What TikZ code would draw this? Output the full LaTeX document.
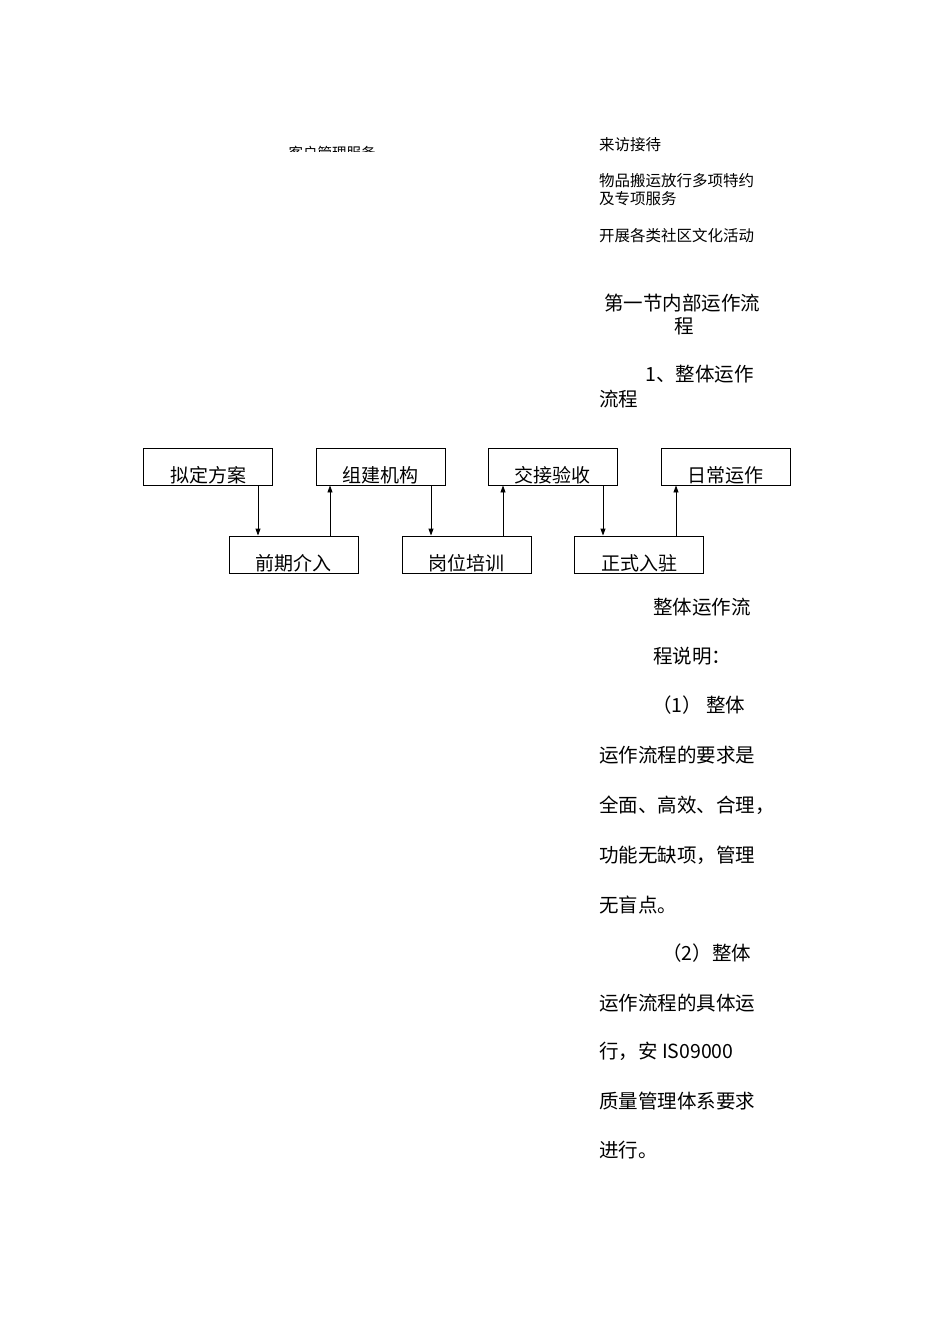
\documentclass[tikz,border=0pt]{standalone}
\usepackage{fontspec}
\setmainfont{Noto Sans CJK SC}
\usetikzlibrary{arrows.meta}
\begin{document}
\begin{tikzpicture}[x=1pt,y=-1pt,
  box/.style={draw,line width=0.9pt,minimum width=129pt,minimum height=37pt,inner sep=0pt},
  btxt/.style={font=\fontsize{19}{19}\selectfont,anchor=center},
  sm/.style={anchor=west,inner sep=0pt,font=\fontsize{15.5}{16}\selectfont},
  bd/.style={anchor=west,inner sep=0pt,font=\fontsize{19.5}{20}\selectfont},
  arr/.style={-{Triangle[length=7pt,width=5pt]},line width=0.9pt}]
\useasboundingbox (0,0) rectangle (950,1344);
\begin{scope}
\clip (0,0) rectangle (950,151);
\node[anchor=center,inner sep=0pt,font=\fontsize{14.5}{15}\selectfont] (kh) at (332,153) {客户管理服务};
\end{scope}
\node[sm] (t1) at (599,145) {来访接待};
\node[sm] (t2) at (599,181) {物品搬运放行多项特约};
\node[sm] (t3) at (599,199) {及专项服务};
\node[sm] (t4) at (599,236) {开展各类社区文化活动};
\node[bd] (h1) at (604,303) {第一节内部运作流};
\node[anchor=center,inner sep=0pt,font=\fontsize{19.5}{20}\selectfont] (h2) at (684,326) {程};
\node[bd] (h3) at (645,374) {1、整体运作};
\node[bd] (h4) at (599,399) {流程};
% boxes
\node[box] (b1) at (208,466.5) {};
\node[box] (b2) at (380.5,466.5) {};
\node[box] (b3) at (552.5,466.5) {};
\node[box] (b4) at (725.5,466.5) {};
\node[box] (c1) at (293.5,554.5) {};
\node[box] (c2) at (466.5,554.5) {};
\node[box] (c3) at (639,554.5) {};
\node[btxt] (l1) at (208,475) {拟定方案};
\node[btxt] (l2) at (380.5,475) {组建机构};
\node[btxt] (l3) at (552.5,475) {交接验收};
\node[btxt] (l4) at (725.5,475) {日常运作};
\node[btxt] (m1) at (293.5,563) {前期介入};
\node[btxt] (m2) at (466.5,563) {岗位培训};
\node[btxt] (m3) at (639,563) {正式入驻};
\draw[arr] (b1.south -| 258,0) -- (c1.north -| 258,0);
\draw[arr] (c1.north -| 330,0) -- (b2.south -| 330,0);
\draw[arr] (b2.south -| 431,0) -- (c2.north -| 431,0);
\draw[arr] (c2.north -| 503,0) -- (b3.south -| 503,0);
\draw[arr] (b3.south -| 603,0) -- (c3.north -| 603,0);
\draw[arr] (c3.north -| 676,0) -- (b4.south -| 676,0);
% body
\node[bd] (p1) at (653,607) {整体运作流};
\node[bd] (p2) at (653,656) {程说明：};
\node[bd] (p3) at (652,705) {（1） 整体};
\node[bd] (p4) at (599,755) {运作流程的要求是};
\node[bd] (p5) at (599,805) {全面、高效、合理，};
\node[bd] (p6) at (599,855) {功能无缺项，管理};
\node[bd] (p7) at (599,905) {无盲点。};
\node[bd] (p8) at (662,953) {（2）整体};
\node[bd] (p9) at (599,1003) {运作流程的具体运};
\node[bd] (p10) at (599,1051) {行，安 IS09000};
\node[bd] (p11) at (599,1101) {质量管理体系要求};
\node[bd] (p12) at (599,1150) {进行。};
\end{tikzpicture}
\end{document}
